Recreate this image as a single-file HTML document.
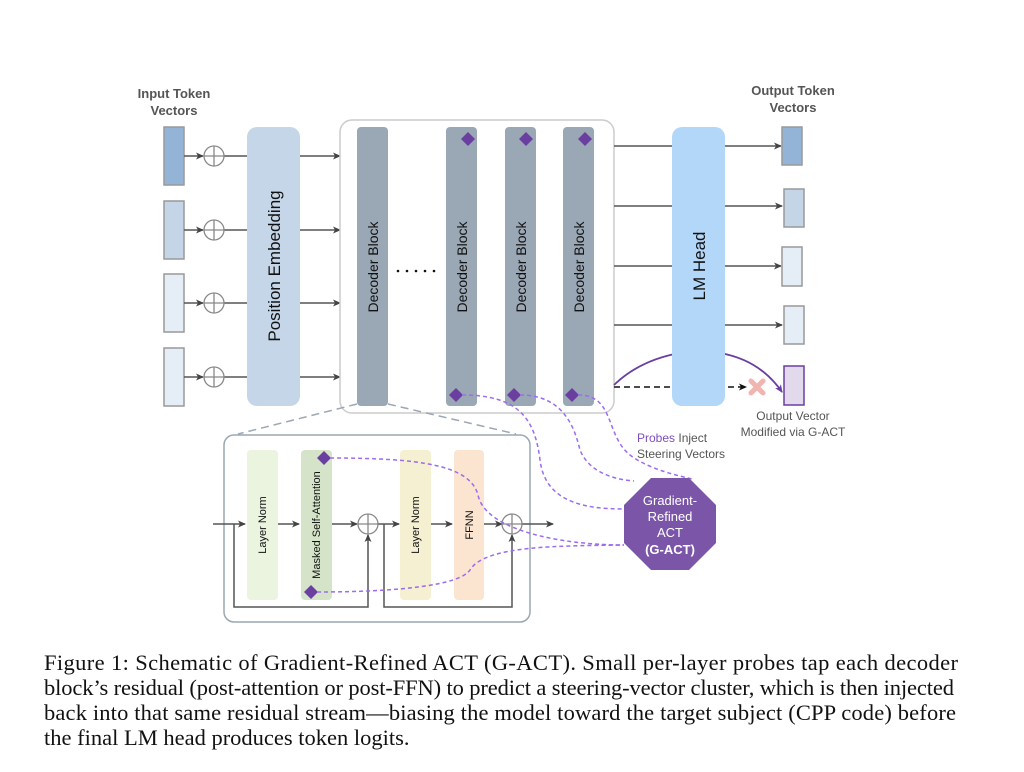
<!DOCTYPE html>
<html><head><meta charset="utf-8"><style>
html,body{margin:0;padding:0;background:#fff;}
svg{display:block;}
.s{font-family:"Liberation Sans",sans-serif;}
</style></head><body>
<svg width="1024" height="772" viewBox="0 0 1024 772" xmlns="http://www.w3.org/2000/svg">
<defs>
<marker id="a" markerWidth="8" markerHeight="8" refX="7" refY="4" orient="auto" markerUnits="userSpaceOnUse"><path d="M0,0.5 L8,4 L0,7.5 L2,4z" fill="#444"/></marker>
<marker id="ap" markerWidth="8" markerHeight="8" refX="7" refY="4" orient="auto" markerUnits="userSpaceOnUse"><path d="M0,0.5 L8,4 L0,7.5 L2,4z" fill="#6a3fa0"/></marker>
<marker id="ak" markerWidth="8" markerHeight="8" refX="7" refY="4" orient="auto" markerUnits="userSpaceOnUse"><path d="M0,0.5 L8,4 L0,7.5 L2,4z" fill="#111"/></marker>
</defs>

<g class="s" font-weight="bold" font-size="13" fill="#555" text-anchor="middle">
<text x="174" y="98">Input Token</text><text x="174" y="115">Vectors</text>
<text x="793" y="95">Output Token</text><text x="793" y="112">Vectors</text>
</g>

<g stroke="#999" stroke-width="1.5">
<rect x="164" y="127" width="20" height="58" fill="#93b4d6"/>
<rect x="164" y="201" width="20" height="58" fill="#c4d5e8"/>
<rect x="164" y="274" width="20" height="58" fill="#e5edf6"/>
<rect x="164" y="348" width="20" height="58" fill="#e5edf6"/>
</g>
<g stroke="#555" stroke-width="1.5" fill="none">
<line x1="184" y1="156" x2="203" y2="156" marker-end="url(#a)"/>
<line x1="184" y1="230" x2="203" y2="230" marker-end="url(#a)"/>
<line x1="184" y1="303" x2="203" y2="303" marker-end="url(#a)"/>
<line x1="184" y1="377" x2="203" y2="377" marker-end="url(#a)"/>
<line x1="224" y1="156" x2="247" y2="156"/><line x1="224" y1="230" x2="247" y2="230"/>
<line x1="224" y1="303" x2="247" y2="303"/><line x1="224" y1="377" x2="247" y2="377"/>
</g>
<g stroke="#888" stroke-width="1.3" fill="none">
<circle cx="214" cy="156" r="10"/><path d="M204,156h20M214,146v20"/>
<circle cx="214" cy="230" r="10"/><path d="M204,230h20M214,220v20"/>
<circle cx="214" cy="303" r="10"/><path d="M204,303h20M214,293v20"/>
<circle cx="214" cy="377" r="10"/><path d="M204,377h20M214,367v20"/>
</g>

<rect x="247" y="127" width="53" height="279" rx="10" fill="#c5d6e8"/>
<text class="s" font-size="17" fill="#111" transform="translate(280,266) rotate(-90)" text-anchor="middle">Position Embedding</text>
<g stroke="#555" stroke-width="1.5">
<line x1="300" y1="156" x2="340" y2="156" marker-end="url(#a)"/>
<line x1="300" y1="230" x2="340" y2="230" marker-end="url(#a)"/>
<line x1="300" y1="303" x2="340" y2="303" marker-end="url(#a)"/>
<line x1="300" y1="377" x2="340" y2="377" marker-end="url(#a)"/>
</g>

<rect x="340" y="120" width="274" height="293" rx="12" fill="#fff" stroke="#ccc" stroke-width="1.5"/>
<g fill="#9aa7b4">
<rect x="357" y="127" width="31" height="279" rx="4"/>
<rect x="446" y="127" width="31" height="279" rx="4"/>
<rect x="505" y="127" width="31" height="279" rx="4"/>
<rect x="563" y="127" width="31" height="279" rx="4"/>
</g>
<g class="s" font-size="14" fill="#111" text-anchor="middle">
<text transform="translate(378,267) rotate(-90)">Decoder Block</text>
<text transform="translate(467,267) rotate(-90)">Decoder Block</text>
<text transform="translate(526,267) rotate(-90)">Decoder Block</text>
<text transform="translate(584,267) rotate(-90)">Decoder Block</text>
</g>
<g fill="#111"><circle cx="398" cy="271" r="1.3"/><circle cx="407" cy="271" r="1.3"/><circle cx="416" cy="271" r="1.3"/><circle cx="425" cy="271" r="1.3"/><circle cx="434" cy="271" r="1.3"/></g>
<g fill="#6a3fa0">
<path d="M468,132l7,7l-7,7l-7,-7z"/><path d="M526,132l7,7l-7,7l-7,-7z"/><path d="M585,132l7,7l-7,7l-7,-7z"/>
<path d="M456,388l7,7l-7,7l-7,-7z"/><path d="M514,388l7,7l-7,7l-7,-7z"/><path d="M572,388l7,7l-7,7l-7,-7z"/>
</g>

<g stroke="#555" stroke-width="1.5">
<line x1="614" y1="146" x2="672" y2="146"/><line x1="614" y1="206" x2="672" y2="206"/>
<line x1="614" y1="266" x2="672" y2="266"/><line x1="614" y1="325" x2="672" y2="325"/>
</g>
<path d="M614,385 Q640,360 680,353 L720,353 Q760,360 782,392" fill="none" stroke="#6a3fa0" stroke-width="1.8" marker-end="url(#ap)"/>
<rect x="672" y="127" width="53" height="279" rx="10" fill="#b3d7f8"/>
<text class="s" font-size="17" fill="#111" transform="translate(705,266) rotate(-90)" text-anchor="middle">LM Head</text>
<g stroke="#555" stroke-width="1.5">
<line x1="725" y1="146" x2="781" y2="146" marker-end="url(#a)"/>
<line x1="725" y1="206" x2="782" y2="206" marker-end="url(#a)"/>
<line x1="725" y1="266" x2="781" y2="266" marker-end="url(#a)"/>
<line x1="725" y1="325" x2="782" y2="325" marker-end="url(#a)"/>
</g>
<line x1="614" y1="387" x2="670" y2="387" stroke="#111" stroke-width="1.5" stroke-dasharray="6,4"/>
<line x1="728" y1="387" x2="746" y2="387" stroke="#111" stroke-width="1.5" stroke-dasharray="6,4" marker-end="url(#ak)"/>
<path d="M751,381l12,12M763,381l-12,12" stroke="#f1b4b0" stroke-width="5" stroke-linecap="round"/>
<g stroke="#999" stroke-width="1.5">
<rect x="782" y="127" width="20" height="38" fill="#93b4d6"/>
<rect x="784" y="189" width="20" height="38" fill="#c4d5e8"/>
<rect x="782" y="247" width="20" height="39" fill="#e5edf6"/>
<rect x="784" y="306" width="20" height="38" fill="#e5edf6"/>
</g>
<rect x="784" y="366" width="20" height="39" fill="#e2d9ec" stroke="#6a3fa0" stroke-width="1.5"/>
<g class="s" font-size="12" fill="#555" text-anchor="middle">
<text x="793" y="420">Output Vector</text><text x="793" y="436">Modified via G-ACT</text>
</g>
<g class="s" font-size="12" fill="#555">
<text x="637" y="442"><tspan fill="#7b4fc0">Probes</tspan> Inject</text>
<text x="637" y="458">Steering Vectors</text>
</g>

<g stroke="#9aa7b4" stroke-width="1.5" stroke-dasharray="8,5" fill="none">
<line x1="357" y1="404" x2="238" y2="434"/><line x1="388" y1="404" x2="516" y2="434"/>
</g>

<rect x="224" y="435" width="306" height="187" rx="10" fill="#fff" stroke="#9aa7b4" stroke-width="1.5"/>
<rect x="247" y="450" width="31" height="150" rx="4" fill="#eaf4df"/>
<rect x="301" y="450" width="31" height="150" rx="4" fill="#d5e4c8"/>
<rect x="400" y="450" width="31" height="150" rx="4" fill="#f6f0d3"/>
<rect x="454" y="450" width="30" height="150" rx="4" fill="#fbe5d0"/>
<g class="s" font-size="11" fill="#111" text-anchor="middle">
<text transform="translate(266,525) rotate(-90)">Layer Norm</text>
<text transform="translate(320,525) rotate(-90)">Masked Self-Attention</text>
<text transform="translate(419,525) rotate(-90)">Layer Norm</text>
<text transform="translate(473,525) rotate(-90)">FFNN</text>
</g>
<g stroke="#555" stroke-width="1.5" fill="none">
<line x1="213" y1="524" x2="245" y2="524" marker-end="url(#a)"/>
<line x1="278" y1="524" x2="299" y2="524" marker-end="url(#a)"/>
<line x1="332" y1="524" x2="357" y2="524" marker-end="url(#a)"/>
<line x1="377" y1="524" x2="399" y2="524" marker-end="url(#a)"/>
<line x1="431" y1="524" x2="452" y2="524" marker-end="url(#a)"/>
<line x1="484" y1="524" x2="502" y2="524" marker-end="url(#a)"/>
<line x1="522" y1="524" x2="553" y2="524" marker-end="url(#a)"/>
<path d="M234,524 V607 H368 V535" marker-end="url(#a)"/>
<path d="M384,524 V607 H512 V535" marker-end="url(#a)"/>
</g>
<g stroke="#888" stroke-width="1.3" fill="none">
<circle cx="368" cy="524" r="10"/><path d="M358,524h20M368,514v20"/>
<circle cx="512" cy="524" r="10"/><path d="M502,524h20M512,514v20"/>
</g>
<g fill="#6a3fa0">
<path d="M324,451l7,7l-7,7l-7,-7z"/><path d="M311,585l7,7l-7,7l-7,-7z"/>
</g>

<g stroke="#9b6cf0" stroke-width="1.5" stroke-dasharray="4,3" fill="none">
<path d="M462,395 C520,395 535,420 540,460 C545,500 580,509 624,509"/>
<path d="M520,395 C565,395 575,430 580,450 C590,475 620,480 634,481"/>
<path d="M578,395 C615,395 605,435 630,455 C650,470 680,476 692,479"/>
<path d="M330,458 C420,458 470,465 478,495 C485,530 560,545 624,545"/>
<path d="M317,592 C400,592 460,585 470,570 C485,545 560,546 624,545"/>
</g>

<polygon points="651,478 689,478 716,505 716,543 689,570 651,570 624,543 624,505" fill="#7b55a8"/>
<g class="s" font-size="13" fill="#fff" text-anchor="middle">
<text x="670" y="505">Gradient-</text>
<text x="670" y="521">Refined</text>
<text x="670" y="537">ACT</text>
<text x="670" y="554" font-weight="bold">(G-ACT)</text>
</g>

<g font-family="'Liberation Serif',serif" font-size="22.5" fill="#111">
<text x="44" y="670" textLength="914" lengthAdjust="spacing">Figure 1: Schematic of Gradient-Refined ACT (G-ACT). Small per-layer probes tap each decoder</text>
<text x="44" y="695" textLength="910" lengthAdjust="spacing">block’s residual (post-attention or post-FFN) to predict a steering-vector cluster, which is then injected</text>
<text x="44" y="720" textLength="912" lengthAdjust="spacing">back into that same residual stream—biasing the model toward the target subject (CPP code) before</text>
<text x="44" y="745">the final LM head produces token logits.</text>
</g>
</svg>
</body></html>
